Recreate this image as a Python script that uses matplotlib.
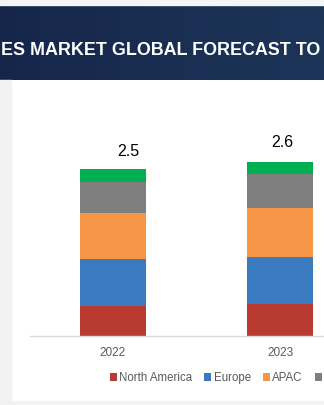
import matplotlib
matplotlib.use("Agg")
import matplotlib.pyplot as plt
from matplotlib.patches import Rectangle, Patch
from matplotlib.colors import LinearSegmentedColormap
import numpy as np

years = ["2022", "2023"]
regions = ["North America", "Europe", "APAC", "Middle East & Africa", "South America"]
north_america = [0.45, 0.48]
europe = [0.70, 0.71]
apac = [0.69, 0.73]
mea = [0.47, 0.50]
south_america = [0.19, 0.18]
totals = [2.5, 2.6]
total_labels = ["2.5", "2.6"]
colors = ["#B83A30", "#3A7BBF", "#F79646", "#7F7F7F", "#00B050"]
title_text = "ES MARKET GLOBAL FORECAST TO"

W, H = 324, 405
fig = plt.figure(figsize=(W / 100, H / 100), dpi=100)
fig.patch.set_facecolor("white")

# light gray frame strips
fig.patches.append(Rectangle((0, 0), 11 / W, 1 - 80 / H, transform=fig.transFigure,
                             color="#F2F2F2", zorder=0))
fig.patches.append(Rectangle((0, 0), 1, 4 / H, transform=fig.transFigure,
                             color="#F2F2F2", zorder=0))
fig.patches.append(Rectangle((0, 1 - 5 / H), 1, 5 / H, transform=fig.transFigure,
                             color="#F4F5F7", zorder=0))

# header band with gradient
hax = fig.add_axes([0, 1 - 80 / H, 1, 75 / H])
grad = np.linspace(0, 1, 256).reshape(1, -1)
cmap = LinearSegmentedColormap.from_list("hdr", ["#15264A", "#1A2E52", "#1C3558"])
hax.imshow(grad, aspect="auto", cmap=cmap, extent=[0, 1, 0, 1])
hax.set_axis_off()
fig.text(1 / W, 1 - 55 / H, title_text, color="white", fontsize=12.9,
         fontweight="bold", family=["Liberation Sans", "DejaVu Sans"],
         ha="left", va="baseline")

# main axes
ymax = 246 / 66.8
left_px, right_px = 30, W
bar0_px, step_px = 113, 167
xl = -(bar0_px - left_px) / step_px
xr = (right_px - bar0_px) / step_px
ax = fig.add_axes([left_px / W, 1 - 336 / H, (right_px - left_px) / W, 246 / H])
ax.set_facecolor("none")
x = np.arange(len(years))
bw = 66 / step_px
series = [north_america, europe, apac, mea, south_america]
bottom = np.zeros(len(years))
for vals, c, name in zip(series, colors, regions):
    ax.bar(x, vals, bw, bottom=bottom, color=c, label=name, zorder=2)
    bottom += np.array(vals)

offsets = [(15, 17), (2, 20)]
for i, (t, lab) in enumerate(zip(totals, total_labels)):
    ax.annotate(lab, (x[i], bottom[i]), xytext=offsets[i], textcoords="offset pixels",
                ha="center", va="center", fontsize=11.5, color="black",
                family=["Liberation Sans", "DejaVu Sans"])

ax.set_xlim(xl, xr)
ax.set_ylim(0, ymax)
ax.set_xticks(x)
ax.set_xticklabels(years, fontsize=8.5, color="#595959", family=["Liberation Sans", "DejaVu Sans"])
ax.tick_params(axis="x", length=0, pad=8)
ax.set_yticks([])
for s in ["left", "right", "top"]:
    ax.spines[s].set_visible(False)
ax.spines["bottom"].set_color("#D9D9D9")
ax.spines["bottom"].set_linewidth(1.0)

# legend: only the part visible in the cropped reference (the 4th label is off-image)
handles = [Patch(facecolor=c) for c in colors[:4]]
leg_labels = regions[:3] + [""]
fig.legend(handles, leg_labels, loc="center left", bbox_to_anchor=(110 / W, 1 - 378 / H),
           ncol=4, frameon=False, borderpad=0, borderaxespad=0,
           handlelength=0.6, handleheight=0.6, handletextpad=0.2, columnspacing=1.05,
           prop={"family": ["Liberation Sans", "DejaVu Sans"], "size": 8.3},
           labelcolor="#595959")

fig.savefig("out.png", dpi=100)
